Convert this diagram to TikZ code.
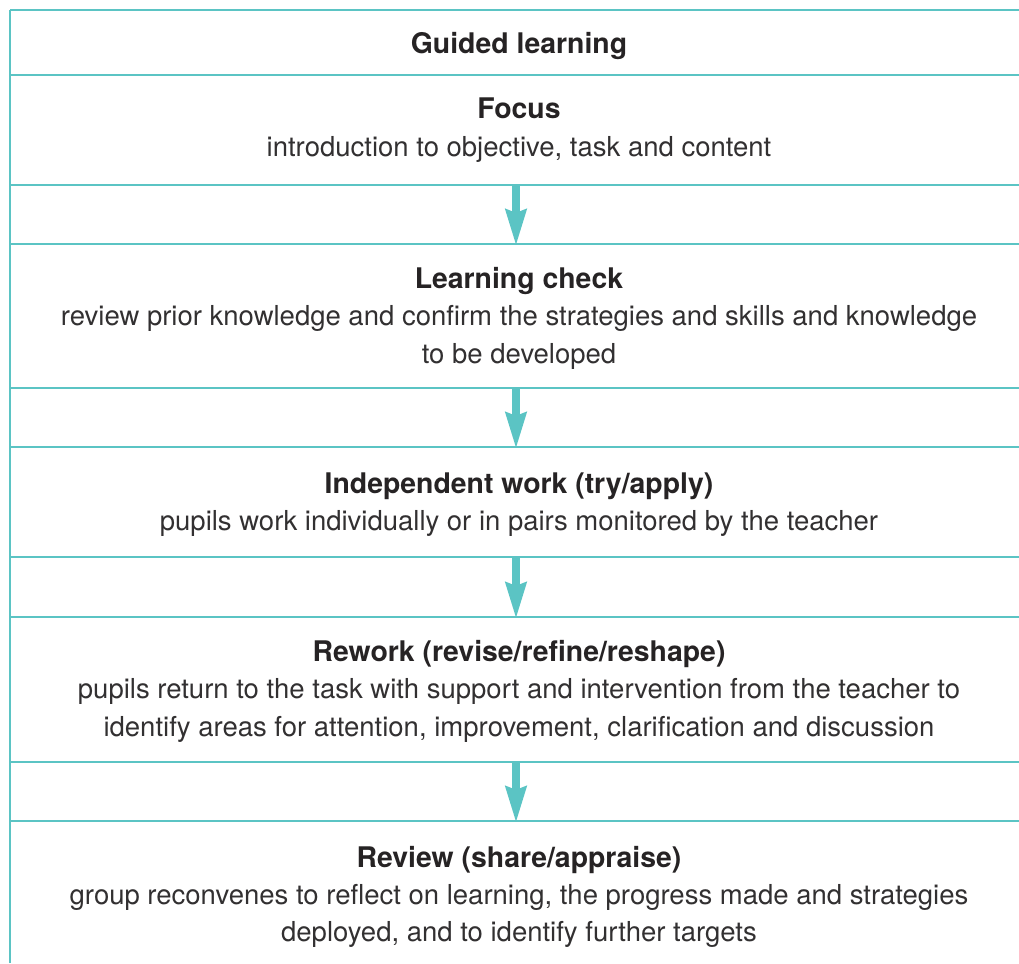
\documentclass[tikz,border=0pt]{standalone}
\usepackage{fontspec}
\setmainfont{TeX Gyre Heros}
\usetikzlibrary{arrows.meta}
\definecolor{teal}{RGB}{91,196,196}
\definecolor{ink}{RGB}{38,35,36}
\definecolor{bodyink}{RGB}{50,48,49}
\tikzset{
  rule/.style={draw=teal, line width=2pt},
  flow/.style={draw=teal, line width=8pt, -{Stealth[length=36pt,width=20pt,inset=3pt]}},
  txt/.style={anchor=base, inner sep=0pt, text=bodyink, font=\fontsize{27.5}{33}\selectfont},
  head/.style={anchor=base, inner sep=0pt, text=ink, font=\fontsize{28.4}{33}\selectfont\bfseries},
}
\begin{document}
\begin{tikzpicture}[x=1pt,y=-1pt]
\useasboundingbox (0,0) rectangle (1019,963);
% frame rules
\draw[rule] (10,963) -- (10,10);
\foreach \y in {10,75,185,244,388,447,557,617,762,821}
  \draw[rule] (10,\y) -- (1019,\y);
% texts
\node[head] (t0) at (519,54) {Guided learning};
\node[head] (h1) at (519,118) {Focus};
\node[txt]  (b1) at (519,156) {introduction to objective, task and content};
\node[head] (h2) at (519,288) {Learning check};
\node[txt]  (b2a) at (519,325) {review prior knowledge and confirm the strategies and skills and knowledge};
\node[txt]  (b2b) at (519,363) {to be developed};
\node[head] (h3) at (519,493) {Independent work (try/apply)};
\node[txt]  (b3) at (519,530) {pupils work individually or in pairs monitored by the teacher};
\node[head] (h4) at (519,661) {Rework (revise/refine/reshape)};
\node[txt]  (b4a) at (519,698) {pupils return to the task with support and intervention from the teacher to};
\node[txt]  (b4b) at (519,736) {identify areas for attention, improvement, clarification and discussion};
\node[head] (h5) at (519,867) {Review (share/appraise)};
\node[txt]  (b5a) at (519,904) {group reconvenes to reflect on learning, the progress made and strategies};
\node[txt]  (b5b) at (519,941) {deployed, and to identify further targets};
% arrows
\coordinate (a1s) at (516,185); \coordinate (a1e) at (516,246);
\coordinate (a2s) at (516,388); \coordinate (a2e) at (516,449);
\coordinate (a3s) at (516,557); \coordinate (a3e) at (516,619);
\coordinate (a4s) at (516,762); \coordinate (a4e) at (516,823);
\draw[flow] (a1s) -- (a1e);
\draw[flow] (a2s) -- (a2e);
\draw[flow] (a3s) -- (a3e);
\draw[flow] (a4s) -- (a4e);
\end{tikzpicture}
\end{document}
